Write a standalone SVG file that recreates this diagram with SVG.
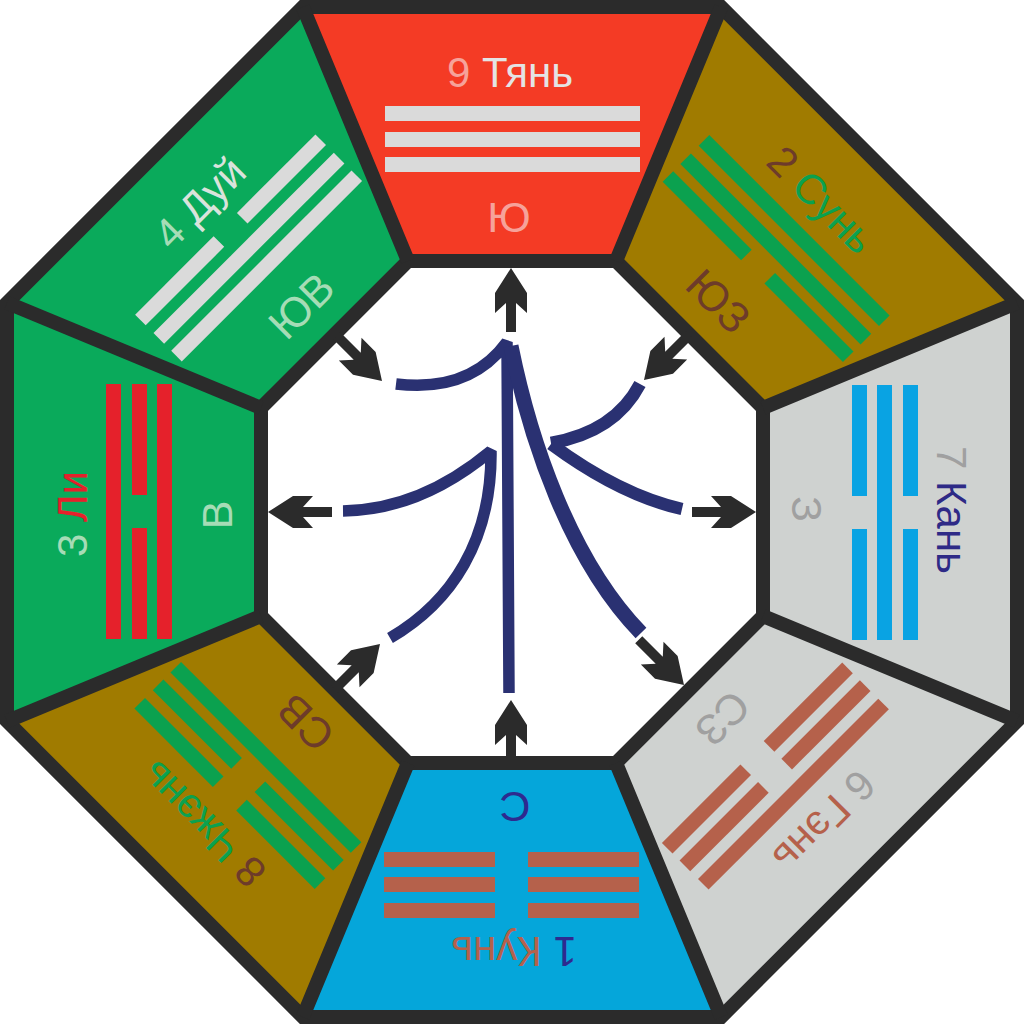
<svg xmlns="http://www.w3.org/2000/svg" width="1024" height="1024" viewBox="0 0 1024 1024">
<defs>
<style>
.frame{fill:none;stroke:#2b2b2b;stroke-width:14;stroke-linejoin:miter}
text{font-family:"Liberation Sans",Arial,sans-serif}
.nm{font-size:42px;text-anchor:middle}
.dr{font-size:43px;text-anchor:middle}
.arrows{fill:#2b2b2b}
.brush{fill:none;stroke:#2a3172;stroke-linejoin:bevel}
</style>
<path id="arw" d="M0,0 L-25,-16 L-45,-16 L-35,-5 L-64,-5 L-64,5 L-35,5 L-45,16 L-25,16 Z"/>
</defs>
<rect width="1024" height="1024" fill="#ffffff"/>

<g id="sector-qian" transform="rotate(0 512 512)">
<polygon points="302.8,7 721.2,7 616,261 408,261" fill="#f43b25"/>
<g fill="#dadada">
<rect x="385" y="106" width="255" height="15"/>
<rect x="385" y="132" width="255" height="15"/>
<rect x="385" y="157" width="255" height="15"/>
</g>
<text class="nm" x="510" y="87"><tspan fill="#f6a29a">9</tspan> <tspan fill="#e4e4e4">Тянь</tspan></text>
<text class="dr" x="509" y="232" fill="#f6a29a">Ю</text>
</g>

<g id="sector-xun" transform="rotate(45 512 512)">
<polygon points="302.8,7 721.2,7 616,261 408,261" fill="#a07b00"/>
<g fill="#0ba14f">
<rect x="385" y="106" width="255" height="15"/>
<rect x="385" y="132" width="255" height="15"/>
<rect x="385" y="157" width="111" height="15"/>
<rect x="529" y="157" width="111" height="15"/>
</g>
<text class="nm" x="510" y="87"><tspan fill="#6d3b2a">2</tspan> <tspan fill="#0ba14f">Сунь</tspan></text>
<text class="dr" x="509" y="232" fill="#6d3b2a">ЮЗ</text>
</g>

<g id="sector-kan" transform="rotate(90 512 512)">
<polygon points="302.8,7 721.2,7 616,261 408,261" fill="#cfd2d0"/>
<g fill="#09a3e3">
<rect x="385" y="106" width="111" height="15"/>
<rect x="529" y="106" width="111" height="15"/>
<rect x="385" y="132" width="255" height="15"/>
<rect x="385" y="157" width="111" height="15"/>
<rect x="529" y="157" width="111" height="15"/>
</g>
<text class="nm" x="510" y="87"><tspan fill="#a0a0a0">7</tspan> <tspan fill="#2e2a86">Кань</tspan></text>
<text class="dr" x="509" y="232" fill="#a0a0a0">З</text>
</g>

<g id="sector-gen" transform="rotate(135 512 512)">
<polygon points="302.8,7 721.2,7 616,261 408,261" fill="#cfd2d0"/>
<g fill="#b5614b">
<rect x="385" y="106" width="255" height="15"/>
<rect x="385" y="132" width="111" height="15"/>
<rect x="529" y="132" width="111" height="15"/>
<rect x="385" y="157" width="111" height="15"/>
<rect x="529" y="157" width="111" height="15"/>
</g>
<text class="nm" x="510" y="87"><tspan fill="#a0a0a0">6</tspan> <tspan fill="#b5614b">Гэнь</tspan></text>
<text class="dr" x="509" y="232" fill="#a0a0a0">СЗ</text>
</g>

<g id="sector-kun" transform="rotate(180 512 512)">
<polygon points="302.8,7 721.2,7 616,261 408,261" fill="#05a6da"/>
<g fill="#b5614b">
<rect x="385" y="106" width="111" height="15"/>
<rect x="529" y="106" width="111" height="15"/>
<rect x="385" y="132" width="111" height="15"/>
<rect x="529" y="132" width="111" height="15"/>
<rect x="385" y="157" width="111" height="15"/>
<rect x="529" y="157" width="111" height="15"/>
</g>
<text class="nm" x="510" y="87"><tspan fill="#2e2a8f">1</tspan> <tspan fill="#b5614b">Кунь</tspan></text>
<text class="dr" x="509" y="232" fill="#2e2a8f">С</text>
</g>

<g id="sector-zhen" transform="rotate(225 512 512)">
<polygon points="302.8,7 721.2,7 616,261 408,261" fill="#a07b00"/>
<g fill="#0ba14f">
<rect x="385" y="106" width="111" height="15"/>
<rect x="529" y="106" width="111" height="15"/>
<rect x="385" y="132" width="111" height="15"/>
<rect x="529" y="132" width="111" height="15"/>
<rect x="385" y="157" width="255" height="15"/>
</g>
<text class="nm" x="510" y="87"><tspan fill="#6d3b2a">8</tspan> <tspan fill="#0ba14f">Чжэнь</tspan></text>
<text class="dr" x="509" y="232" fill="#6d3b2a">СВ</text>
</g>

<g id="sector-li" transform="rotate(270 512 512)">
<polygon points="302.8,7 721.2,7 616,261 408,261" fill="#0aaa5b"/>
<g fill="#e5212b">
<rect x="385" y="106" width="255" height="15"/>
<rect x="385" y="132" width="111" height="15"/>
<rect x="529" y="132" width="111" height="15"/>
<rect x="385" y="157" width="255" height="15"/>
</g>
<text class="nm" x="510" y="87"><tspan fill="#a6dcb6">3</tspan> <tspan fill="#e5212b">Ли</tspan></text>
<text class="dr" x="509" y="232" fill="#a6dcb6">В</text>
</g>

<g id="sector-dui" transform="rotate(315 512 512)">
<polygon points="302.8,7 721.2,7 616,261 408,261" fill="#0aaa5b"/>
<g fill="#dadada">
<rect x="385" y="106" width="111" height="15"/>
<rect x="529" y="106" width="111" height="15"/>
<rect x="385" y="132" width="255" height="15"/>
<rect x="385" y="157" width="255" height="15"/>
</g>
<text class="nm" x="510" y="87"><tspan fill="#a6dcb6">4</tspan> <tspan fill="#d9e3dc">Дуй</tspan></text>
<text class="dr" x="509" y="232" fill="#a6dcb6">ЮВ</text>
</g>

<g id="frame" class="frame">
<polygon points="721.2,7 1017,302.8 1017,721.2 721.2,1017 302.8,1017 7,721.2 7,302.8 302.8,7"/>
<polygon points="616,261 763,408 763,616 616,763 408,763 261,616 261,408 408,261" fill="#ffffff"/>
<path d="M616,261 L721.2,7 M763,408 L1017,302.8 M763,616 L1017,721.2 M616,763 L721.2,1017 M408,763 L302.8,1017 M261,616 L7,721.2 M261,408 L7,302.8 M408,261 L302.8,7"/>
</g>

<g id="center-yong" class="brush">
<path d="M396,384 Q470,393 507,342 L509,693" stroke-width="11.5"/>
<path d="M511,346 C530,440 570,560 641,633" stroke-width="15"/>
<path d="M343,511 Q420,510 491,451 C492,540 452,602 390,638" stroke-width="11.5"/>
<path d="M640,384 Q615,432 551,443" stroke-width="12.5"/>
<path d="M551,444 Q620,495 682,509" stroke-width="12.5"/>
</g>

<g id="connectors" class="arrows">
<use href="#arw" transform="translate(511,268) rotate(-90)"/>
<use href="#arw" transform="translate(382,381) rotate(45)"/>
<use href="#arw" transform="translate(644,380) rotate(135)"/>
<use href="#arw" transform="translate(756,512) rotate(0)"/>
<use href="#arw" transform="translate(684,685) rotate(45)"/>
<use href="#arw" transform="translate(511,700) rotate(-90)"/>
<use href="#arw" transform="translate(380,644) rotate(-45)"/>
<use href="#arw" transform="translate(268,512) rotate(180)"/>
</g>
</svg>
